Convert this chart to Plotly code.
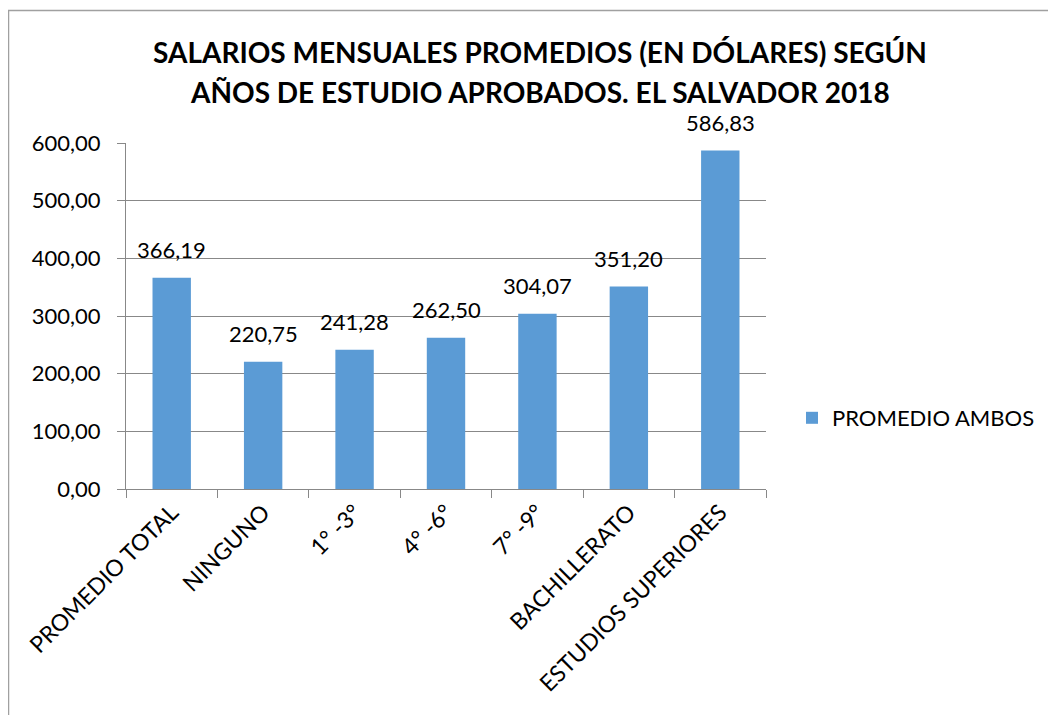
import plotly.graph_objects as go

categories = ["PROMEDIO TOTAL", "NINGUNO", "1° -3°", "4° -6°", "7° -9°", "BACHILLERATO", "ESTUDIOS SUPERIORES"]
values = [366.19, 220.75, 241.28, 262.50, 304.07, 351.20, 586.83]
series_name = "PROMEDIO AMBOS"
title_lines = ["SALARIOS MENSUALES PROMEDIOS (EN DÓLARES) SEGÚN",
               "AÑOS DE ESTUDIO APROBADOS. EL SALVADOR 2018"]

W, H = 1056, 715
OFF = 8  # page body margin
L, R, T, B = 126 - OFF, 766 - OFF, 143 - OFF, 489 - OFF

font_family = "Lato, 'Open Sans', sans-serif"

def px_x(px):
    return (px - OFF - L) / (R - L)

def px_y(py):
    return (B - (py - OFF)) / (B - T)

fig = go.Figure()
fig.add_trace(go.Bar(
    x=categories, y=values, name=series_name,
    marker=dict(color="#5B9BD5", line=dict(width=0)),
    showlegend=True,
))

annotations = []
for c, v in zip(categories, values):
    annotations.append(dict(x=c, y=v, xref="x", yref="y", text=f"{v:.2f}".replace(".", ","),
                            showarrow=False, yanchor="middle", yshift=28,
                            font=dict(size=22, family=font_family, color="#000000")))
for i, line in enumerate(title_lines):
    annotations.append(dict(x=px_x(540), y=px_y(52 + 40 * i), xref="paper", yref="paper",
                            text=line, showarrow=False, xanchor="center", yanchor="middle",
                            font=dict(size=28, family=font_family, color="#000000", weight="bold")))

fig.update_layout(
    width=W, height=H,
    margin=dict(l=L, r=W - R, t=T, b=H - B, pad=0, autoexpand=False),
    paper_bgcolor="white", plot_bgcolor="white",
    separators=",.",
    font=dict(family=font_family, color="#000000"),
    bargap=0.58,
    showlegend=True,
    legend=dict(x=px_x(792), y=px_y(418), xanchor="left", yanchor="middle",
                font=dict(size=22, family=font_family, color="#000000"),
                bgcolor="rgba(0,0,0,0)", itemwidth=30),
    xaxis=dict(type="category", tickson="boundaries", ticks="outside", ticklen=8,
               tickcolor="#888888", showline=True, linecolor="#888888", linewidth=1,
               showgrid=False, tickangle=-45, automargin=False,
               tickfont=dict(size=23, family=font_family, color="#000000")),
    yaxis=dict(range=[0, 600], dtick=100, tickformat=".2f", ticks="outside", ticklen=8,
               tickcolor="#888888", showline=True, linecolor="#888888", linewidth=1,
               showgrid=True, gridcolor="#888888", gridwidth=1, zeroline=False,
               ticklabelstandoff=12, automargin=False,
               tickfont=dict(size=22, family=font_family, color="#000000")),
    annotations=annotations,
    shapes=[dict(type="rect", xref="paper", yref="paper",
                 x0=px_x(8.5), x1=px_x(1080),
                 y0=px_y(760), y1=px_y(10.5),
                 line=dict(color="#A0A0A0", width=1.5), fillcolor="rgba(0,0,0,0)", layer="below")],
)

fig.write_html("out.html")
